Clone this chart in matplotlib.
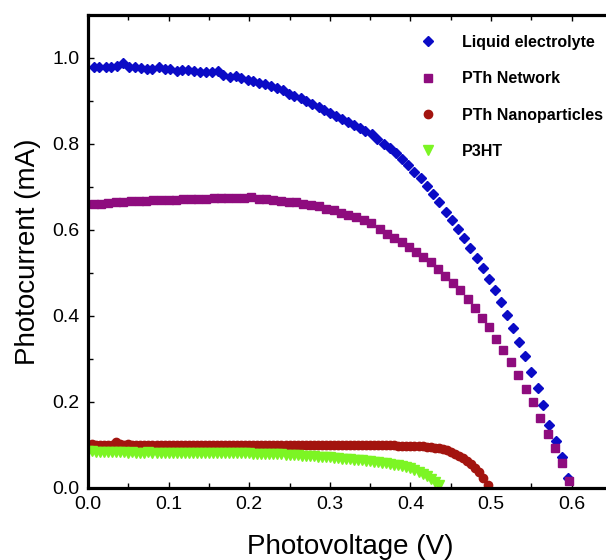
import matplotlib
matplotlib.use('Agg')
import matplotlib.pyplot as plt
from matplotlib.ticker import MultipleLocator

plt.rcParams['font.family'] = ['Liberation Sans', 'DejaVu Sans']

# Liquid electrolyte (V, mA)
liquid_v = [0.007, 0.014, 0.022, 0.029, 0.036, 0.044, 0.051, 0.058, 0.066, 0.073,
            0.080, 0.088, 0.095, 0.102, 0.110, 0.117, 0.124, 0.132, 0.139, 0.146,
            0.154, 0.161, 0.168, 0.176, 0.183, 0.190, 0.198, 0.205, 0.212, 0.220,
            0.227, 0.234, 0.242, 0.249, 0.256, 0.264, 0.271, 0.278, 0.286, 0.293,
            0.300, 0.308, 0.315, 0.322, 0.330, 0.337, 0.344, 0.352, 0.359, 0.367,
            0.374, 0.382, 0.390, 0.397, 0.405, 0.413, 0.421, 0.428, 0.436, 0.444,
            0.452, 0.459, 0.467, 0.474, 0.482, 0.490, 0.497, 0.505, 0.512, 0.520,
            0.527, 0.535, 0.542, 0.550, 0.558, 0.565, 0.572, 0.581, 0.588, 0.596]
liquid_i = [0.980, 0.980, 0.978, 0.980, 0.982, 0.988, 0.978, 0.980, 0.976, 0.975,
            0.974, 0.980, 0.974, 0.974, 0.969, 0.972, 0.971, 0.969, 0.967, 0.967,
            0.967, 0.969, 0.961, 0.955, 0.959, 0.953, 0.949, 0.946, 0.943, 0.939,
            0.936, 0.930, 0.925, 0.916, 0.912, 0.907, 0.901, 0.893, 0.885, 0.879,
            0.872, 0.866, 0.858, 0.852, 0.844, 0.838, 0.831, 0.823, 0.811, 0.801,
            0.790, 0.778, 0.765, 0.751, 0.736, 0.720, 0.703, 0.684, 0.664, 0.643,
            0.623, 0.603, 0.582, 0.559, 0.535, 0.512, 0.486, 0.460, 0.432, 0.403,
            0.372, 0.339, 0.306, 0.270, 0.232, 0.193, 0.147, 0.110, 0.071, 0.023]

# PTh Network
network_v = [0.007, 0.016, 0.025, 0.035, 0.044, 0.053, 0.063, 0.072, 0.081, 0.090,
             0.100, 0.109, 0.118, 0.128, 0.137, 0.146, 0.156, 0.165, 0.174, 0.184,
             0.193, 0.202, 0.212, 0.221, 0.230, 0.239, 0.249, 0.258, 0.267, 0.277,
             0.286, 0.295, 0.305, 0.314, 0.323, 0.333, 0.342, 0.351, 0.362, 0.371,
             0.380, 0.389, 0.398, 0.407, 0.416, 0.425, 0.434, 0.443, 0.453, 0.462,
             0.471, 0.480, 0.489, 0.497, 0.506, 0.515, 0.525, 0.534, 0.543, 0.552,
             0.561, 0.570, 0.579, 0.588, 0.597]
network_i = [0.661, 0.661, 0.663, 0.665, 0.666, 0.667, 0.667, 0.667, 0.669, 0.669,
             0.669, 0.669, 0.673, 0.671, 0.673, 0.673, 0.675, 0.675, 0.675, 0.675,
             0.674, 0.677, 0.671, 0.671, 0.669, 0.667, 0.666, 0.664, 0.661, 0.658,
             0.656, 0.650, 0.646, 0.640, 0.636, 0.630, 0.624, 0.617, 0.603, 0.590,
             0.582, 0.572, 0.561, 0.549, 0.537, 0.525, 0.510, 0.493, 0.477, 0.460,
             0.440, 0.419, 0.396, 0.374, 0.347, 0.322, 0.294, 0.263, 0.231, 0.199,
             0.162, 0.125, 0.094, 0.057, 0.016]

# PTh Nanoparticles
nano_v = [0.000, 0.005, 0.010, 0.015, 0.020, 0.025, 0.030, 0.035, 0.040, 0.045,
          0.050, 0.055, 0.060, 0.065, 0.070, 0.075, 0.080, 0.085, 0.090, 0.095,
          0.100, 0.105, 0.110, 0.115, 0.120, 0.125, 0.130, 0.135, 0.140, 0.145,
          0.150, 0.155, 0.160, 0.165, 0.170, 0.175, 0.180, 0.185, 0.190, 0.195,
          0.200, 0.205, 0.210, 0.215, 0.220, 0.225, 0.230, 0.235, 0.240, 0.245,
          0.250, 0.255, 0.260, 0.265, 0.270, 0.275, 0.280, 0.285, 0.290, 0.295,
          0.300, 0.305, 0.310, 0.315, 0.320, 0.325, 0.330, 0.335, 0.340, 0.345,
          0.350, 0.355, 0.360, 0.365, 0.370, 0.375, 0.380, 0.385, 0.390, 0.395,
          0.400, 0.405, 0.410, 0.415, 0.420, 0.425, 0.430, 0.435, 0.440, 0.445,
          0.450, 0.455, 0.460, 0.465, 0.470, 0.475, 0.480, 0.485, 0.490, 0.496]
nano_i = [0.101, 0.102, 0.101, 0.101, 0.100, 0.101, 0.101, 0.107, 0.102, 0.101,
          0.102, 0.101, 0.101, 0.101, 0.100, 0.101, 0.101, 0.101, 0.100, 0.101,
          0.101, 0.100, 0.101, 0.100, 0.100, 0.101, 0.100, 0.100, 0.101, 0.100,
          0.100, 0.100, 0.101, 0.100, 0.100, 0.100, 0.100, 0.101, 0.100, 0.100,
          0.100, 0.100, 0.100, 0.100, 0.101, 0.100, 0.100, 0.100, 0.100, 0.100,
          0.100, 0.100, 0.100, 0.100, 0.100, 0.100, 0.100, 0.100, 0.100, 0.100,
          0.100, 0.100, 0.100, 0.100, 0.100, 0.100, 0.100, 0.099, 0.099, 0.099,
          0.099, 0.099, 0.099, 0.099, 0.099, 0.099, 0.099, 0.098, 0.098, 0.098,
          0.098, 0.097, 0.097, 0.097, 0.096, 0.095, 0.094, 0.093, 0.091, 0.088,
          0.084, 0.080, 0.075, 0.069, 0.062, 0.055, 0.047, 0.037, 0.024, 0.008]

# P3HT
p3ht_v = [0.000, 0.005, 0.010, 0.015, 0.020, 0.025, 0.030, 0.035, 0.040, 0.045,
          0.050, 0.055, 0.060, 0.065, 0.070, 0.075, 0.080, 0.085, 0.090, 0.095,
          0.100, 0.105, 0.110, 0.115, 0.120, 0.125, 0.130, 0.135, 0.140, 0.145,
          0.150, 0.155, 0.160, 0.165, 0.170, 0.175, 0.180, 0.185, 0.190, 0.195,
          0.200, 0.205, 0.210, 0.215, 0.220, 0.225, 0.230, 0.235, 0.240, 0.245,
          0.250, 0.255, 0.260, 0.265, 0.270, 0.275, 0.280, 0.285, 0.290, 0.295,
          0.300, 0.305, 0.310, 0.315, 0.320, 0.325, 0.330, 0.335, 0.340, 0.345,
          0.350, 0.355, 0.360, 0.365, 0.370, 0.375, 0.380, 0.385, 0.390, 0.395,
          0.400, 0.405, 0.410, 0.415, 0.420, 0.425, 0.430, 0.435]
p3ht_i = [0.087, 0.085, 0.084, 0.084, 0.083, 0.083, 0.083, 0.084, 0.083, 0.083,
          0.082, 0.083, 0.082, 0.082, 0.082, 0.083, 0.082, 0.082, 0.082, 0.082,
          0.082, 0.082, 0.082, 0.082, 0.082, 0.082, 0.082, 0.082, 0.082, 0.082,
          0.082, 0.081, 0.081, 0.081, 0.081, 0.081, 0.081, 0.081, 0.081, 0.081,
          0.081, 0.080, 0.080, 0.080, 0.079, 0.079, 0.079, 0.078, 0.078, 0.077,
          0.077, 0.076, 0.076, 0.075, 0.075, 0.074, 0.074, 0.073, 0.072, 0.072,
          0.071, 0.070, 0.069, 0.068, 0.068, 0.067, 0.066, 0.065, 0.064, 0.063,
          0.062, 0.061, 0.060, 0.059, 0.057, 0.056, 0.054, 0.053, 0.051, 0.049,
          0.046, 0.043, 0.038, 0.033, 0.027, 0.021, 0.015, 0.008]


fig = plt.figure(figsize=(6.06, 5.60), dpi=100)
# axes run a little past the right edge, like the cropped original
ax = fig.add_axes([88 / 606, 72 / 560, 524 / 606, 473 / 560])

ax.plot(liquid_v, liquid_i, linestyle='none', marker='D', ms=5.5,
        color='#0b0bc6', mec='#0b0bc6', label='Liquid electrolyte')
ax.plot(network_v, network_i, linestyle='none', marker='s', ms=5.2,
        color='#8e0c7e', mec='#8e0c7e', label='PTh Network')
ax.plot(nano_v, nano_i, linestyle='none', marker='o', ms=6,
        color='#a3140f', mec='#a3140f', label='PTh Nanoparticles')
ax.plot(p3ht_v, p3ht_i, linestyle='none', marker='v', ms=6.5,
        color='#7cf524', mec='#7cf524', label='P3HT')

ax.set_xlim(0, 0.65)
ax.set_ylim(0, 1.1)

ax.xaxis.set_major_locator(MultipleLocator(0.1))
ax.xaxis.set_minor_locator(MultipleLocator(0.05))
ax.yaxis.set_major_locator(MultipleLocator(0.2))
ax.yaxis.set_minor_locator(MultipleLocator(0.1))

ax.tick_params(which='both', direction='in', top=True, right=True,
               labelsize=14, width=1.0)
ax.tick_params(which='major', length=4, pad=6)
ax.tick_params(which='minor', length=3.5)

for side in ax.spines.values():
    side.set_linewidth(2.3)

ax.set_xlabel('Photovoltage (V)', fontsize=20, labelpad=15)
ax.set_ylabel('Photocurrent (mA)', fontsize=20, labelpad=8)

ax.legend(loc='upper left', bbox_to_anchor=(0.634, 0.958), frameon=False,
          numpoints=1, handlelength=1.0, handletextpad=1.6,
          borderpad=0, borderaxespad=0, labelspacing=1.34,
          prop={'weight': 'bold', 'size': 11.5})

fig.savefig('out.png', dpi=100)
